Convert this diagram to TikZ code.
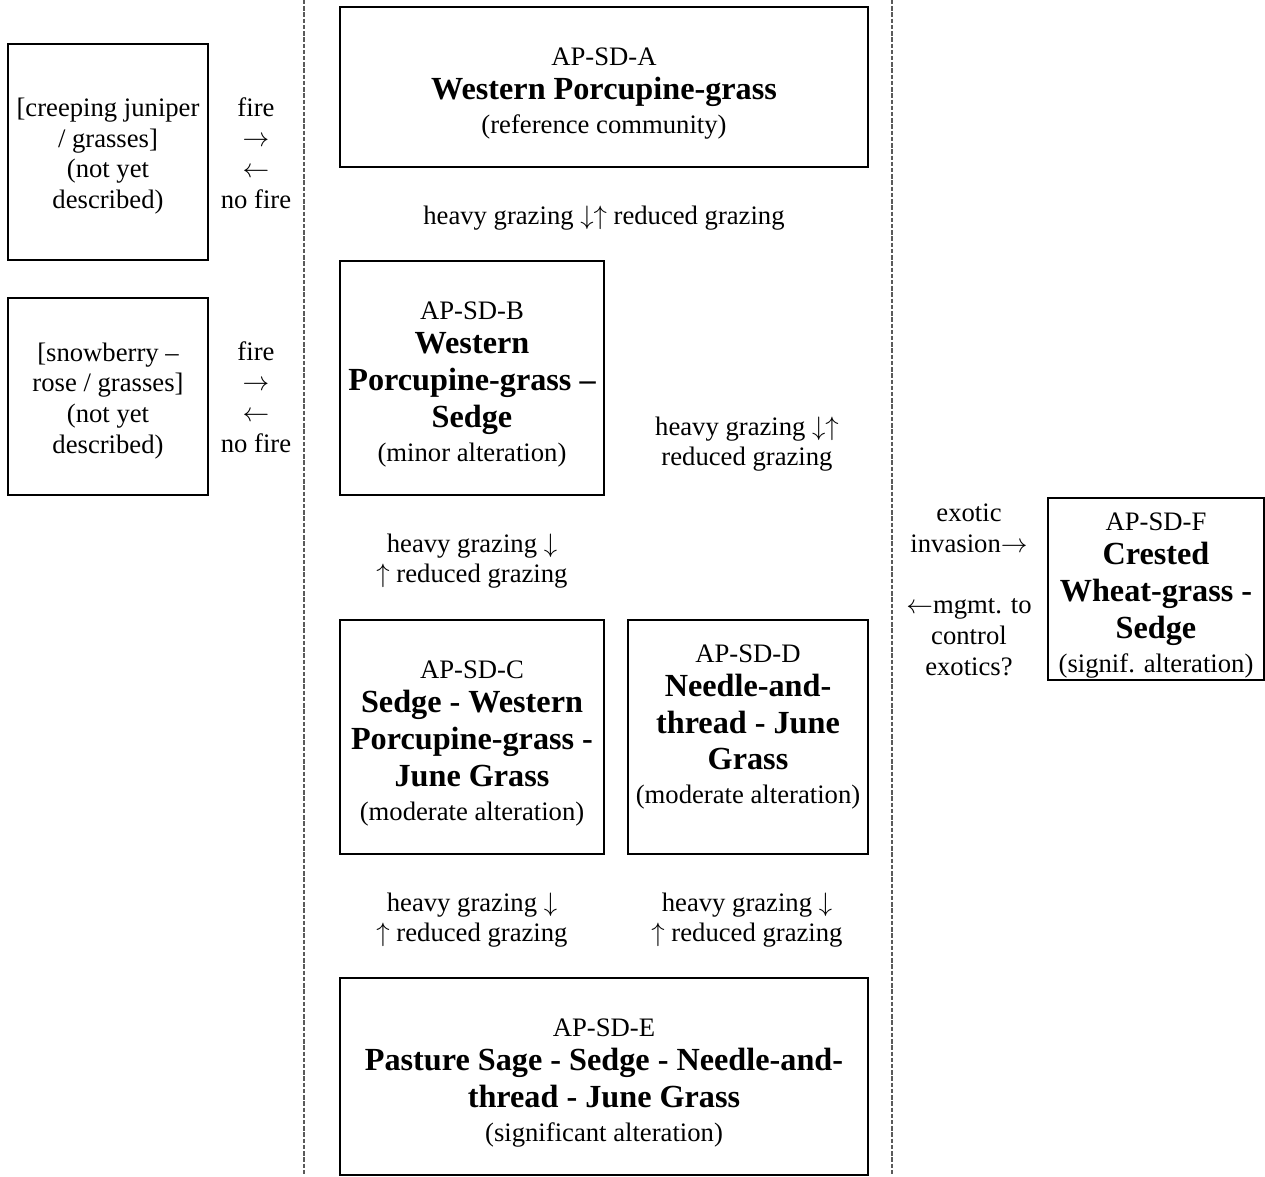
\documentclass[tikz,border=0pt]{standalone}
\usepackage{fontspec}
\setmainfont{Liberation Serif}
\definecolor{rule}{RGB}{90,90,90}
\newcommand{\commname}[1]{{\fontsize{14.5}{16.6}\selectfont\bfseries #1}}
\newcommand{\commcode}[1]{\rule{0pt}{14pt}#1}
\tikzset{
  state/.style={draw=black,line width=0.75pt,align=center,inner sep=0pt,
                font=\fontsize{12}{13.8}\selectfont},
  wh/.style 2 args={minimum width=#1*0.45pt,minimum height=#2*0.45pt},
  lbl/.style={align=center,inner sep=0pt,font=\fontsize{12}{13.8}\selectfont},
  divider/.style={draw=rule,line width=0.5pt,dash pattern=on 2pt off 0.8pt},
}
\begin{document}
\begin{tikzpicture}[x=0.45pt,y=-0.45pt]
  \useasboundingbox[fill=white] (0,0) rectangle (1265,1176);
  % dividers between the side states and the grazing sequence
  \coordinate (d1top) at (304,0);
  \coordinate (d1bot) at (304,1176);
  \coordinate (d2top) at (892,0);
  \coordinate (d2bot) at (892,1176);
  \draw[divider] (d1top) -- (d1bot);
  \draw[divider] (d2top) -- (d2bot);

  % shrub states (left)
  \node[state,wh={200}{216}] (jun) at (108,152)
    {\rule{0pt}{12pt}[creeping juniper\\/ grasses]\\(not yet\\described)};
  \node[state,wh={200}{197}] (snow) at (108,396.5)
    {\rule{0pt}{12pt}[snowberry --\\rose / grasses]\\(not yet\\described)};
  \node[lbl] (fire1) at (256,153) {fire\\$\rightarrow$\\$\leftarrow$\\no fire};
  \node[lbl] (fire2) at (256,397) {fire\\$\rightarrow$\\$\leftarrow$\\no fire};

  % grazing sequence
  \node[state,wh={528}{160}] (a) at (604,87)
    {\commcode{AP-SD-A}\\[1.5pt]\commname{Western Porcupine-grass}\\[1.5pt](reference community)};
  \node[lbl] (gab) at (604,218) {heavy grazing $\downarrow\uparrow$ reduced grazing};
  \node[state,wh={264}{234}] (b) at (472,378)
    {\commcode{AP-SD-B}\\[1.5pt]\commname{Western}\\[2.8pt]\commname{Porcupine-grass --}\\[2.8pt]\commname{Sedge}\\[1.5pt](minor alteration)};
  \node[lbl] (gad) at (747,444) {heavy grazing $\downarrow\uparrow$\\reduced grazing};
  \node[lbl] (gbc) at (472,561) {heavy grazing $\downarrow$\\$\uparrow$ reduced grazing};
  \node[state,wh={264}{234}] (c) at (472,737)
    {\commcode{AP-SD-C}\\[1.5pt]\commname{Sedge - Western}\\[2.8pt]\commname{Porcupine-grass -}\\[2.8pt]\commname{June Grass}\\[1.5pt](moderate alteration)};
  \node[state,wh={240}{234}] (d) at (748,737) {};
  \node[lbl] (dtxt) at (748,727)
    {AP-SD-D\\[1.5pt]\commname{Needle-and-}\\[2.8pt]\commname{thread - June}\\[2.8pt]\commname{Grass}\\[1.5pt](moderate alteration)};
  \node[lbl] (gce) at (472,920) {heavy grazing $\downarrow$\\$\uparrow$ reduced grazing};
  \node[lbl] (gde) at (747,920) {heavy grazing $\downarrow$\\$\uparrow$ reduced grazing};
  \node[state,wh={528}{197}] (e) at (604,1076.5)
    {\commcode{AP-SD-E}\\[1.5pt]\commname{Pasture Sage - Sedge - Needle-and-}\\[2.8pt]\commname{thread - June Grass}\\[1.5pt](significant alteration)};

  % exotic state (right)
  \node[lbl] (exo) at (969,590)
    {exotic\\invasion$\rightarrow$\\[13.8pt]$\leftarrow$mgmt. to\\control\\exotics?};
  \node[state,wh={216}{182}] (f) at (1156,589)
    {\commcode{AP-SD-F}\\[1.5pt]\commname{Crested}\\[2.8pt]\commname{Wheat-grass -}\\[2.8pt]\commname{Sedge}\\[1.5pt](signif. alteration)};
\end{tikzpicture}
\end{document}
